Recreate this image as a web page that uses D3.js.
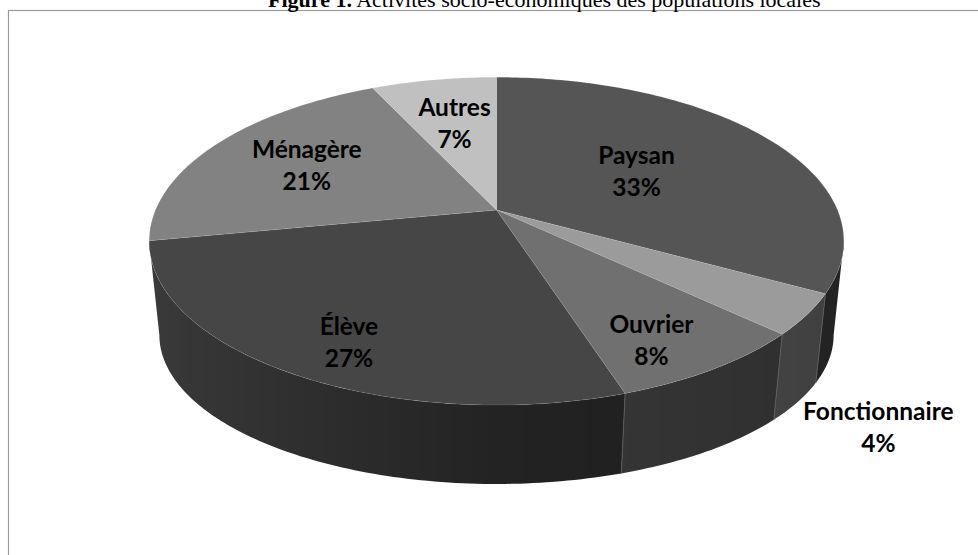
<!DOCTYPE html>
<html>
<head>
<meta charset="utf-8">
<script src="https://cdn.jsdelivr.net/npm/d3@7"></script>
<style>
  body { margin: 0; background: #fff; }
  svg { display: block; }
</style>
</head>
<body>
<script>
// data
const categories = ["Paysan", "Fonctionnaire", "Ouvrier", "Élève", "Ménagère", "Autres"];
const values = [33, 4, 8, 27, 21, 7];
const topColors = ["#555555", "#9b9b9b", "#707070", "#464646", "#828282", "#c0c0c0"];

// label placement: fraction of radius, and how far down the wall (0 = top face, 1 = bottom)
const labelRadius = [0.5, 1.23, 0.75, 0.75, 0.66, 0.63];
const labelLevel = [0, 1, 0.19, 0.19, 0, 0];

const width = 978, height = 555;

const svg = d3.select("body").append("svg")
  .attr("width", width)
  .attr("height", height);

// frame and title
svg.append("rect")
  .attr("x", 8.5).attr("y", 10.5)
  .attr("width", 1200).attr("height", 700)
  .attr("fill", "none")
  .attr("stroke", "#9a9a9a")
  .attr("stroke-width", 1.2);

const title = svg.append("text")
  .attr("x", 268).attr("y", 7)
  .attr("font-family", "'Liberation Serif', 'Times New Roman', serif")
  .attr("font-size", 22)
  .attr("fill", "#000");
title.append("tspan").attr("font-weight", "bold").text("Figure 1.");
title.append("tspan").text(" Activités socio-économiques des populations locales");

// perspective ellipses for the top and bottom rims of the pie
const cx = 496.5, p = 0.19;
const topFace = { cy: 210, A: 341, B: 158 };
const botFace = { cy: 306.7, A: 331, B: 143.6 };

function rim(face, beta, r) {
  const x = r * Math.sin(beta), z = r * Math.cos(beta);
  const w = 1 + p * z;
  return [cx + face.A * x / w, face.cy - face.B * z / w];
}
function point(beta, r, t) {
  const a = rim(topFace, beta, r), b = rim(botFace, beta, r);
  return [a[0] + (b[0] - a[0]) * t, a[1] + (b[1] - a[1]) * t];
}

const pie = d3.pie().sort(null).startAngle(0).endAngle(2 * Math.PI);
const arcs = pie(values);

const line = d3.line();
const deg = Math.PI / 180;

function shade(color, beta) {
  const nx = Math.sin(beta);
  const k = nx < 0 ? 0.5 - 0.35 * nx : 0.5 - 0.1 * nx;
  const c = d3.rgb(color);
  return d3.rgb(c.r * k, c.g * k, c.b * k).formatHex();
}

// visible part of the outer wall of each slice
const lo = Math.PI - Math.acos(p), hi = Math.PI + Math.acos(p);
const walls = [];
arcs.forEach((a, i) => {
  const s = Math.max(a.startAngle, lo), e = Math.min(a.endAngle, hi);
  if (e <= s) return;
  const n = Math.max(2, Math.ceil((e - s) / deg));
  const betas = d3.range(n + 1).map(j => s + (e - s) * j / n);
  walls.push({ i: i, betas: betas });
});

const defs = svg.append("defs");
walls.forEach(wl => {
  const xs = wl.betas.map(b => rim(topFace, b, 1)[0]);
  const x0 = d3.min(xs), x1 = d3.max(xs);
  const g = defs.append("linearGradient")
    .attr("id", "wall" + wl.i)
    .attr("gradientUnits", "userSpaceOnUse")
    .attr("x1", x0).attr("x2", x1).attr("y1", 0).attr("y2", 0);
  wl.betas.map((b, j) => ({ off: (xs[j] - x0) / (x1 - x0), c: shade(topColors[wl.i], b) }))
    .sort((a, b) => a.off - b.off)
    .forEach(st => g.append("stop").attr("offset", st.off).attr("stop-color", st.c));
});

svg.append("g").selectAll("path")
  .data(walls)
  .join("path")
  .attr("d", wl => {
    const top = wl.betas.map(b => rim(topFace, b, 1));
    const bot = wl.betas.slice().reverse().map(b => rim(botFace, b, 1));
    return line(top.concat(bot)) + "Z";
  })
  .attr("fill", wl => "url(#wall" + wl.i + ")");

// thin lines where slices meet on the wall
const edges = arcs.map(a => a.startAngle).filter(b => b > lo && b < hi);
svg.append("g").selectAll("path")
  .data(edges)
  .join("path")
  .attr("d", b => line([rim(topFace, b, 1), rim(botFace, b, 1)]))
  .attr("stroke", "#5a5a5a")
  .attr("stroke-width", 1);

// top faces
svg.append("g").selectAll("path")
  .data(arcs)
  .join("path")
  .attr("d", a => {
    const pts = [rim(topFace, 0, 0)];
    const n = Math.max(2, Math.ceil((a.endAngle - a.startAngle) / deg));
    for (let j = 0; j <= n; j++) {
      pts.push(rim(topFace, a.startAngle + (a.endAngle - a.startAngle) * j / n, 1));
    }
    return line(pts) + "Z";
  })
  .attr("fill", (a, i) => topColors[i])
  .attr("stroke", "rgba(255,255,255,0.13)")
  .attr("stroke-width", 0.8)
  .attr("stroke-linejoin", "round");

// labels
const labels = svg.append("g")
  .attr("font-family", "Lato, 'Open Sans', sans-serif")
  .attr("font-weight", "bold")
  .attr("font-size", 24.5)
  .attr("text-anchor", "middle")
  .attr("fill", "#000");

arcs.forEach((a, i) => {
  const mid = (a.startAngle + a.endAngle) / 2;
  const pos = point(mid, labelRadius[i], labelLevel[i]);
  const t = labels.append("text")
    .attr("x", pos[0]).attr("y", pos[1] - 7.5);
  t.append("tspan").attr("x", pos[0]).text(categories[i]);
  t.append("tspan").attr("x", pos[0]).attr("dy", 32).text(values[i] + "%");
});
</script>
</body>
</html>
